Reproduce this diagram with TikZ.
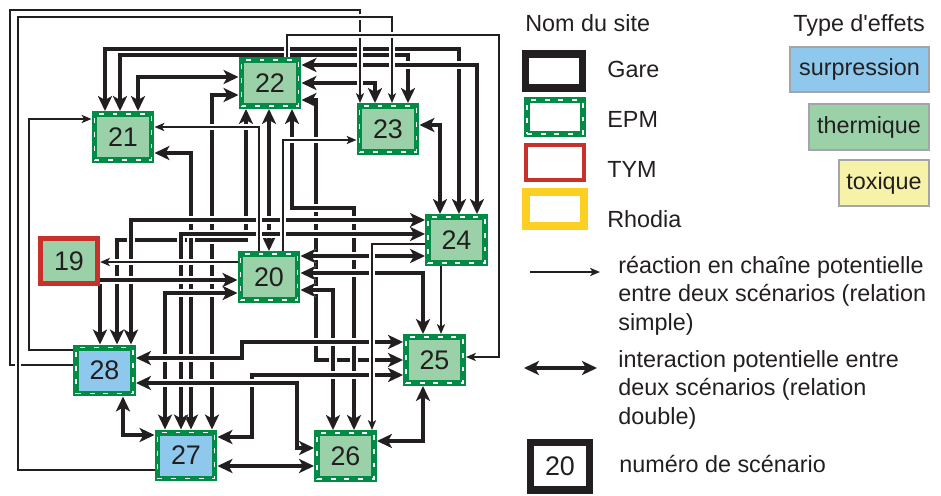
\documentclass[tikz,border=0pt]{standalone}
\usepackage{fontspec}
\setmainfont{Liberation Sans}
\usetikzlibrary{arrows.meta,backgrounds}
\definecolor{cepm}{HTML}{008C45}
\definecolor{ctherm}{HTML}{9BD1A8}
\definecolor{csurp}{HTML}{8EC8EC}
\definecolor{ctox}{HTML}{F6F2A8}
\definecolor{ctym}{HTML}{C8302C}
\definecolor{crhod}{HTML}{FCD022}
\definecolor{cdark}{HTML}{231F20}
\definecolor{cgray}{HTML}{A3A5A8}
\tikzset{
  tipb/.tip={Stealth[length=8.5pt,width=8pt,inset=2.2pt]},
  tips/.tip={Stealth[length=5.6pt,width=4.6pt,inset=1.4pt]},
}

\begin{document}
\begin{tikzpicture}[x=0.02cm, y=-0.02cm, line join=miter,
  font=\fontsize{13.3}{16.5}\selectfont, text=cdark,
  site/.style={draw=cepm, line width=3.4pt, fill=ctherm, inner sep=0pt,
    minimum width=1.14cm, minimum height=0.92cm, font=\fontsize{15.3}{18}\selectfont,
    postaction={draw=white, line width=1pt, dash pattern=on 2.8pt off 5pt}},
  surp/.style={site, fill=csurp},
  tym/.style={draw=ctym, line width=2.6pt, fill=ctherm, inner sep=0pt,
    minimum width=1.15cm, minimum height=0.91cm, font=\fontsize{15.3}{18}\selectfont},
  effet/.style={draw=cgray, line width=1.1pt, inner sep=0pt},
  lbl/.style={anchor=base west, inner sep=0pt},
  dbl/.style={draw=cdark, line width=2.8pt, tipb-tipb,
    preaction={draw=white, line width=4.6pt}},
  one/.style={draw=cdark, line width=2.8pt, -tipb,
    preaction={draw=white, line width=4.6pt}},
  simple/.style={draw=cdark, line width=1.1pt, -tips,
    preaction={draw=white, line width=3.4pt}},
]
  \useasboundingbox (0,0) rectangle (941,495);

  % ---------- scenarios ----------
  \node[site] (n21) at (123,137) {21};
  \node[site] (n22) at (270,83) {22};
  \node[site] (n23) at (388,129) {23};
  \node[site] (n24) at (456.5,240) {24};
  \node[tym]  (n19) at (69,261) {19};
  \node[site] (n20) at (269,277) {20};
  \node[surp] (n28) at (104.5,370.5) {28};
  \node[site] (n25) at (434.5,360) {25};
  \node[surp] (n27) at (186,455.5) {27};
  \node[site] (n26) at (345.5,456) {26};

  \begin{scope}[on background layer]
    % ---------- interactions (double) ----------
    \draw[dbl] (n21.north-|105,0) |- (459,49) -- (n24.north-|459,0);
    \draw[dbl] (n21.north-|120,0) |- (408,55) -- (n23.north-|408,0);
    \draw[dbl] (n21.north-|138,0) |- (n22.west|-0,77);
    \draw[dbl] (n22.east|-0,65) -| (n24.north-|477,0);
    \draw[dbl] (n22.east|-0,83) -| (n23.north-|375,0);
    \draw[dbl] (n23.east|-0,125) -| (n24.north-|440,0);
    \draw[dbl] (n22.east|-0,100) -| (316,360) -- (n25.west|-0,360);
    \draw[dbl] (n22.west|-0,95) -| (n27.north-|212,0);
    \draw[dbl] (n22.south-|246,0) |- (117,240) -- (n28.north-|117,0);
    \draw[dbl] (n22.south-|269,0) -- (n20.north-|269,0);
    \draw[dbl] (n22.south-|292,0) |- (354,208) -- (n26.north-|354,0);
    \draw[dbl] (n21.east|-0,153) -| (n27.north-|191,0);
    \draw[dbl] (n24.west|-0,220) -| (n28.north-|131,0);
    \draw[dbl] (n24.west|-0,234) -| (n27.north-|181,0);
    \draw[dbl] (n20.east|-0,256) -- (n24.west|-0,256);
    \draw[dbl] (n20.east|-0,273) -| (n25.north-|423,0);
    \draw[dbl] (n20.east|-0,290) -| (n26.north-|333,0);
    \draw[dbl] (n20.west|-0,293) -| (n27.north-|165,0);
    \draw[dbl] (n28.east|-0,358) -| (242,342) -- (n25.west|-0,342);
    \draw[dbl] (n27.east|-0,437) -| (252,375) -- (n25.west|-0,375);
    \draw[dbl] (n28.east|-0,383) -| (297,448) -- (n26.west|-0,448);
    \draw[dbl] (n27.east|-0,466) -- (n26.west|-0,466);
    \draw[dbl] (n28.south-|123,0) |- (n27.west|-0,435);
    \draw[dbl] (n25.south-|423,0) |- (n26.east|-0,441);
    \draw[one] (n19.east|-0,280) -| (n28.north-|100,0);
    \draw[one] (n19.east|-0,280) -- (n20.west|-0,280);

    % ---------- chain reactions (simple) ----------
    \draw[simple] (n28.west|-0,365) -| (10,10) -| (n23.north-|360,0);
    \draw[simple] (n27.west|-0,470) -| (18,17) -| (n23.north-|392,0);
    \draw[simple] (n28.west|-0,350) -| (29,119) -- (n21.west|-0,119);
    \draw[simple] (n22.north-|287,0) |- (499,35) |- (n25.east|-0,357);
    \draw[simple] (n20.north-|259,0) |- (n21.east|-0,127);
    \draw[simple] (n20.north-|283,0) |- (n23.west|-0,140);
    \draw[simple] (n20.west|-0,262) -- (n19.east|-0,262);
    \draw[simple] (n24.west|-0,244) -| (n26.north-|372,0);
    \draw[simple] (n24.south-|441,0) -- (n25.north-|441,0);
  \end{scope}

  % ---------- legend: sites ----------
  \node[lbl] (tsite) at (525,31) {Nom du site};
  \node[draw=cdark, line width=4pt, inner sep=0pt,
    minimum width=1.14cm, minimum height=0.68cm] (lgare) at (554,71) {};
  \node[site, fill=white, minimum width=1.12cm, minimum height=0.68cm] (lepm) at (555,117) {};
  \node[draw=ctym, line width=2.3pt, inner sep=0pt,
    minimum width=1.16cm, minimum height=0.70cm] (ltym) at (555,162.5) {};
  \node[draw=crhod, line width=4.5pt, inner sep=0pt,
    minimum width=1.16cm, minimum height=0.68cm] (lrhod) at (555,209) {};
  \node[lbl] (tgare) at (607,77) {Gare};
  \node[lbl] (tepm) at (607,127) {EPM};
  \node[lbl] (ttym) at (607,177) {TYM};
  \node[lbl] (trhod) at (607,227) {Rhodia};

  % ---------- legend: effects ----------
  \node[lbl] (teffet) at (793,31) {Type d\textquotesingle effets};
  \node[effet, fill=csurp, minimum width=2.78cm, minimum height=0.90cm] (lsurp) at (859.5,69.5) {surpression};
  \node[effet, fill=ctherm, minimum width=2.40cm, minimum height=0.92cm] (ltherm) at (869,127) {thermique};
  \node[effet, fill=ctox, minimum width=1.80cm, minimum height=0.92cm] (ltox) at (884,183) {toxique};

  % ---------- legend: relations ----------
  \coordinate (lsa) at (530,272);
  \coordinate (lsb) at (600,272);
  \draw[simple] (lsa) -- (lsb);
  \node[lbl] (tsimple) at (618,273) {\begin{tabular}[t]{@{}l@{}}r\'eaction en cha\^ine potentielle\\entre deux sc\'enarios (relation\\simple)\end{tabular}};
  \coordinate (lda) at (524,368);
  \coordinate (ldb) at (597,368);
  \draw[dbl] (lda) -- (ldb);
  \node[lbl] (tdouble) at (618,367) {\begin{tabular}[t]{@{}l@{}}interaction potentielle entre\\deux sc\'enarios (relation\\double)\end{tabular}};
  \node[draw=cdark, line width=4pt, inner sep=0pt, minimum width=1.18cm, minimum height=0.96cm,
    font=\fontsize{15.3}{18}\selectfont] (lnum) at (560,466) {20};
  \node[lbl] (tnum) at (619,472) {num\'ero de sc\'enario};
\end{tikzpicture}
\end{document}
